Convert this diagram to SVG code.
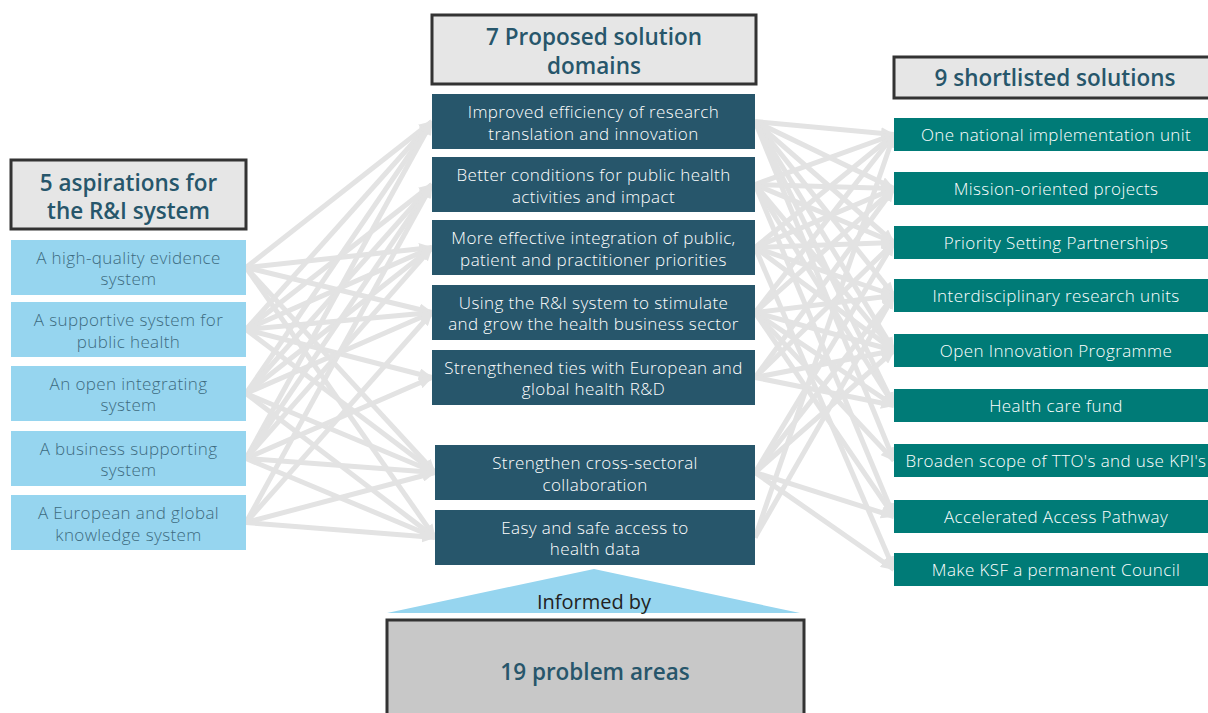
<svg xmlns="http://www.w3.org/2000/svg" width="1208" height="713" viewBox="0 0 1208 713">
<style>
.hdr{fill:#e6e6e6;stroke:#333;stroke-width:3}
.ht{font-family:"Open Sans","Liberation Sans",sans-serif;font-weight:600;font-size:22.5px;fill:#27566b;text-anchor:middle}
.asp{fill:#96d5ef}
.at{font-family:"Open Sans","Liberation Sans",sans-serif;font-weight:300;font-size:17px;letter-spacing:0.4px;fill:#3d6b80;text-anchor:middle}
.dom{fill:#27566b}
.dt{font-family:"Open Sans","Liberation Sans",sans-serif;font-weight:300;font-size:17px;letter-spacing:0.4px;fill:#ffffff;text-anchor:middle}
.sol{fill:#007b77}
.st{font-family:"Open Sans","Liberation Sans",sans-serif;font-weight:300;font-size:17px;letter-spacing:0.4px;fill:#ffffff;text-anchor:middle}
.c line{stroke:#e3e3e3;stroke-width:5;marker-end:url(#ah)}
</style>
<defs>
<marker id="ah" viewBox="0 0 14 12" markerWidth="14" markerHeight="12" refX="13" refY="6" orient="auto" markerUnits="userSpaceOnUse">
<path d="M0,0 L14,6 L0,12 z" fill="#e3e3e3"/>
</marker>
</defs>
<rect width="1208" height="713" fill="#ffffff"/>
<g id="connectors" class="c">
<line x1="246" y1="267.5" x2="432" y2="121.5"/>
<line x1="246" y1="267.5" x2="432" y2="247.5"/>
<line x1="246" y1="267.5" x2="432" y2="312.5"/>
<line x1="246" y1="267.5" x2="435" y2="472.5"/>
<line x1="246" y1="267.5" x2="435" y2="537.5"/>
<line x1="246" y1="329.5" x2="432" y2="121.5"/>
<line x1="246" y1="329.5" x2="432" y2="184.5"/>
<line x1="246" y1="329.5" x2="432" y2="247.5"/>
<line x1="246" y1="329.5" x2="432" y2="312.5"/>
<line x1="246" y1="329.5" x2="432" y2="377.5"/>
<line x1="246" y1="329.5" x2="435" y2="472.5"/>
<line x1="246" y1="393.5" x2="432" y2="121.5"/>
<line x1="246" y1="393.5" x2="432" y2="184.5"/>
<line x1="246" y1="393.5" x2="432" y2="247.5"/>
<line x1="246" y1="393.5" x2="432" y2="312.5"/>
<line x1="246" y1="393.5" x2="435" y2="472.5"/>
<line x1="246" y1="393.5" x2="435" y2="537.5"/>
<line x1="246" y1="458.5" x2="432" y2="121.5"/>
<line x1="246" y1="458.5" x2="432" y2="184.5"/>
<line x1="246" y1="458.5" x2="432" y2="247.5"/>
<line x1="246" y1="458.5" x2="432" y2="377.5"/>
<line x1="246" y1="458.5" x2="435" y2="472.5"/>
<line x1="246" y1="458.5" x2="435" y2="537.5"/>
<line x1="246" y1="522.5" x2="432" y2="184.5"/>
<line x1="246" y1="522.5" x2="432" y2="312.5"/>
<line x1="246" y1="522.5" x2="435" y2="472.5"/>
<line x1="246" y1="522.5" x2="435" y2="537.5"/>
<line x1="755" y1="121.5" x2="894" y2="134.5"/>
<line x1="755" y1="121.5" x2="894" y2="188.5"/>
<line x1="755" y1="121.5" x2="894" y2="242.5"/>
<line x1="755" y1="121.5" x2="894" y2="295.5"/>
<line x1="755" y1="121.5" x2="894" y2="350.5"/>
<line x1="755" y1="121.5" x2="894" y2="405.5"/>
<line x1="755" y1="121.5" x2="894" y2="460.5"/>
<line x1="755" y1="184.5" x2="894" y2="134.5"/>
<line x1="755" y1="184.5" x2="894" y2="188.5"/>
<line x1="755" y1="184.5" x2="894" y2="242.5"/>
<line x1="755" y1="184.5" x2="894" y2="350.5"/>
<line x1="755" y1="184.5" x2="894" y2="405.5"/>
<line x1="755" y1="184.5" x2="894" y2="516.5"/>
<line x1="755" y1="247.5" x2="894" y2="134.5"/>
<line x1="755" y1="247.5" x2="894" y2="188.5"/>
<line x1="755" y1="247.5" x2="894" y2="242.5"/>
<line x1="755" y1="247.5" x2="894" y2="295.5"/>
<line x1="755" y1="247.5" x2="894" y2="350.5"/>
<line x1="755" y1="247.5" x2="894" y2="569.5"/>
<line x1="755" y1="312.5" x2="894" y2="134.5"/>
<line x1="755" y1="312.5" x2="894" y2="188.5"/>
<line x1="755" y1="312.5" x2="894" y2="295.5"/>
<line x1="755" y1="312.5" x2="894" y2="350.5"/>
<line x1="755" y1="312.5" x2="894" y2="405.5"/>
<line x1="755" y1="312.5" x2="894" y2="460.5"/>
<line x1="755" y1="312.5" x2="894" y2="516.5"/>
<line x1="755" y1="377.5" x2="894" y2="188.5"/>
<line x1="755" y1="377.5" x2="894" y2="242.5"/>
<line x1="755" y1="377.5" x2="894" y2="350.5"/>
<line x1="755" y1="377.5" x2="894" y2="405.5"/>
<line x1="755" y1="472.5" x2="894" y2="242.5"/>
<line x1="755" y1="472.5" x2="894" y2="295.5"/>
<line x1="755" y1="472.5" x2="894" y2="350.5"/>
<line x1="755" y1="472.5" x2="894" y2="516.5"/>
<line x1="755" y1="472.5" x2="894" y2="569.5"/>
<line x1="755" y1="537.5" x2="894" y2="134.5"/>
<line x1="755" y1="537.5" x2="894" y2="295.5"/>
</g>
<g id="hdr-aspirations">
<rect class="hdr" x="11" y="160" width="235" height="69"/>
<text class="ht" x="128.5" y="191">5 aspirations for</text>
<text class="ht" x="128.5" y="219">the R&amp;I system</text>
</g>
<g id="asp1"><rect class="asp" x="11" y="240" width="235" height="55"/><text class="at" x="128.5" y="264">A high-quality evidence</text><text class="at" x="128.5" y="285">system</text></g>
<g id="asp2"><rect class="asp" x="11" y="302" width="235" height="55"/><text class="at" x="128.5" y="326">A supportive system for</text><text class="at" x="128.5" y="348">public health</text></g>
<g id="asp3"><rect class="asp" x="11" y="366" width="235" height="55"/><text class="at" x="128.5" y="390">An open integrating</text><text class="at" x="128.5" y="411">system</text></g>
<g id="asp4"><rect class="asp" x="11" y="431" width="235" height="55"/><text class="at" x="128.5" y="455">A business supporting</text><text class="at" x="128.5" y="476">system</text></g>
<g id="asp5"><rect class="asp" x="11" y="495" width="235" height="55"/><text class="at" x="128.5" y="519">A European and global</text><text class="at" x="128.5" y="541">knowledge system</text></g>
<g id="hdr-domains">
<rect class="hdr" x="432" y="15" width="324" height="69"/>
<text class="ht" x="594" y="45">7 Proposed solution</text>
<text class="ht" x="594" y="74">domains</text>
</g>
<g id="dom1"><rect class="dom" x="432" y="94" width="323" height="55"/><text class="dt" x="593.5" y="118">Improved efficiency of research</text><text class="dt" x="593.5" y="140">translation and innovation</text></g>
<g id="dom2"><rect class="dom" x="432" y="157" width="323" height="55"/><text class="dt" x="593.5" y="181">Better conditions for public health</text><text class="dt" x="593.5" y="203">activities and impact</text></g>
<g id="dom3"><rect class="dom" x="432" y="220" width="323" height="55"/><text class="dt" x="593.5" y="244">More effective integration of public,</text><text class="dt" x="593.5" y="266">patient and practitioner priorities</text></g>
<g id="dom4"><rect class="dom" x="432" y="285" width="323" height="55"/><text class="dt" x="593.5" y="309">Using the R&amp;I system to stimulate</text><text class="dt" x="593.5" y="330">and grow the health business sector</text></g>
<g id="dom5"><rect class="dom" x="432" y="350" width="323" height="55"/><text class="dt" x="593.5" y="374">Strengthened ties with European and</text><text class="dt" x="593.5" y="395">global health R&amp;D</text></g>
<g id="dom6"><rect class="dom" x="435" y="445" width="320" height="55"/><text class="dt" x="595" y="469">Strengthen cross-sectoral</text><text class="dt" x="595" y="491">collaboration</text></g>
<g id="dom7"><rect class="dom" x="435" y="510" width="320" height="55"/><text class="dt" x="595" y="534">Easy and safe access to</text><text class="dt" x="595" y="555">health data</text></g>
<g id="hdr-solutions">
<rect class="hdr" x="894" y="57" width="318" height="41"/>
<text class="ht" x="1055" y="86">9 shortlisted solutions</text>
</g>
<g id="sol1"><rect class="sol" x="894" y="118" width="314" height="33"/><text class="st" x="1056" y="141">One national implementation unit</text></g>
<g id="sol2"><rect class="sol" x="894" y="172" width="314" height="33"/><text class="st" x="1056" y="195">Mission-oriented projects</text></g>
<g id="sol3"><rect class="sol" x="894" y="226" width="314" height="33"/><text class="st" x="1056" y="249">Priority Setting Partnerships</text></g>
<g id="sol4"><rect class="sol" x="894" y="279" width="314" height="33"/><text class="st" x="1056" y="302">Interdisciplinary research units</text></g>
<g id="sol5"><rect class="sol" x="894" y="334" width="314" height="33"/><text class="st" x="1056" y="357">Open Innovation Programme</text></g>
<g id="sol6"><rect class="sol" x="894" y="389" width="314" height="33"/><text class="st" x="1056" y="412">Health care fund</text></g>
<g id="sol7"><rect class="sol" x="894" y="444" width="314" height="33"/><text class="st" x="1056" y="467">Broaden scope of TTO's and use KPI's</text></g>
<g id="sol8"><rect class="sol" x="894" y="500" width="314" height="33"/><text class="st" x="1056" y="523">Accelerated Access Pathway</text></g>
<g id="sol9"><rect class="sol" x="894" y="553" width="314" height="33"/><text class="st" x="1056" y="576">Make KSF a permanent Council</text></g>
<g id="informed">
<polygon points="387,613 594,569 800,613" fill="#96d5ef"/>
<text x="594" y="609" font-family="Open Sans, Liberation Sans, sans-serif" font-size="20" fill="#222" text-anchor="middle">Informed by</text>
</g>
<g id="problems">
<rect x="387" y="620" width="417" height="100" fill="#c8c8c8" stroke="#333" stroke-width="3"/>
<text class="ht" x="595" y="680">19 problem areas</text>
</g>
</svg>
